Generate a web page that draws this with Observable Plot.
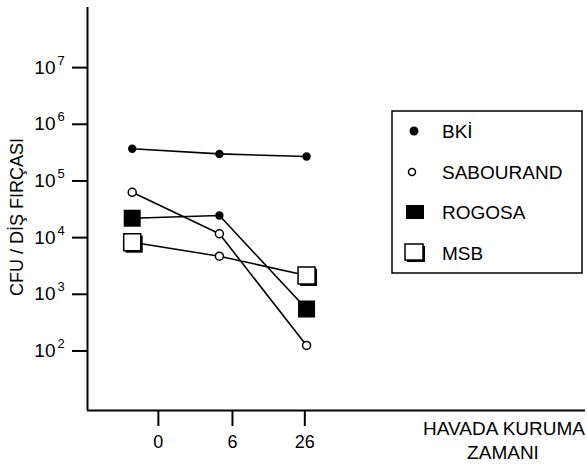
<!DOCTYPE html>
<html><head><meta charset="utf-8">
<script src="https://cdn.jsdelivr.net/npm/d3@7"></script>
<script src="https://cdn.jsdelivr.net/npm/@observablehq/plot@0.6"></script>
<style>
body{margin:0;background:#fff;}
#chart{position:relative;width:587px;height:464px;}
svg text{font-family:"Liberation Sans",Arial,Helvetica,sans-serif;}
</style>
</head><body><div id="chart"></div>
<script>
// ---- data ----
const seriesNames = ["BKİ", "SABOURAND", "ROGOSA", "MSB"];
const timeIndex = [0, 1, 2];
const bki = [3.7e5, 3.0e5, 2.7e5];
const sabourand = [6.3e4, 1.17e4, 125];
const rogosa = [2.2e4, 2.45e4, 550];
const msb = [8.3e3, 4.7e3, 2.15e3];
const xTickPos = [0.3, 1.15, 1.98];
const xTickLabels = ["0", "6", "26"];
const yExponents = [2, 3, 4, 5, 6, 7];
const yTitle = "CFU / DİŞ FIRÇASI";
const xTitle = ["HAVADA KURUMA", "ZAMANI"];

const valuesBySeries = {"BKİ": bki, "SABOURAND": sabourand, "ROGOSA": rogosa, "MSB": msb};
const shapes = {"BKİ": ["dot","dot","dot"], "SABOURAND": ["dot","dot","dot"], "ROGOSA": ["square","dot","square"], "MSB": ["square","dot","square"]};
const filled = {"BKİ": true, "SABOURAND": false, "ROGOSA": true, "MSB": false};

const rows = [];
for (const s of seriesNames) {
  timeIndex.forEach((t, i) => rows.push({series: s, t, v: valuesBySeries[s][i], shape: shapes[s][i], filled: filled[s]}));
}
const dotsFilled = rows.filter(d => d.shape === "dot" && d.filled);
const dotsOpen = rows.filter(d => d.shape === "dot" && !d.filled);
const sqFilled = rows.filter(d => d.shape === "square" && d.filled);
const sqOpen = rows.filter(d => d.shape === "square" && !d.filled);

const xDomain = [-0.513, 5.2];
const yDomain = [8.9, 1.15e8];
const font = "Liberation Sans, Arial, Helvetica, sans-serif";

const chart = Plot.plot({
  width: 587,
  height: 464,
  marginLeft: 87,
  marginRight: 2,
  marginTop: 7,
  marginBottom: 54,
  style: {fontFamily: font, background: "#fff", color: "#000"},
  x: {type: "linear", domain: xDomain},
  y: {type: "log", domain: yDomain},
  marks: [
    Plot.axisY({ticks: yExponents.map(e => 10 ** e), tickFormat: () => "10", tickSize: 15, tickPadding: 17, fontSize: 19, strokeWidth: 2, label: null}),
    Plot.text(yExponents, {x: xDomain[0], y: d => 10 ** d, text: d => String(d), dx: -30, dy: -7, textAnchor: "start", fontSize: 13}),
    Plot.axisX({ticks: xTickPos, tickFormat: d => xTickLabels[xTickPos.indexOf(d)], tickSize: 16, tickPadding: 9, fontSize: 18, strokeWidth: 2, label: null}),
    Plot.ruleX([xDomain[0]], {strokeWidth: 2}),
    Plot.ruleY([yDomain[0]], {strokeWidth: 2}),
    Plot.line(rows, {x: "t", y: "v", z: "series", stroke: "#000", strokeWidth: 1.6}),
    Plot.dot(sqOpen, {x: "t", y: "v", symbol: "square", r: 9.6, fill: "#000", dx: 2, dy: 2}),
    Plot.dot(sqOpen, {x: "t", y: "v", symbol: "square", r: 9.6, fill: "#fff", stroke: "#000", strokeWidth: 1.5}),
    Plot.dot(sqFilled, {x: "t", y: "v", symbol: "square", r: 9.6, fill: "#000"}),
    Plot.dot(dotsFilled, {x: "t", y: "v", r: 4.2, fill: "#000"}),
    Plot.dot(dotsOpen, {x: "t", y: "v", r: 4, fill: "#fff", stroke: "#000", strokeWidth: 1.5})
  ]
});
document.getElementById("chart").appendChild(chart);

// titles and legend
const svg = d3.select(chart);
svg.append("text").attr("transform", "translate(17,217) rotate(-90)")
  .attr("text-anchor", "middle").attr("dominant-baseline", "central")
  .attr("font-size", 18).text(yTitle);
svg.append("text").attr("x", 585).attr("y", 428).attr("text-anchor", "end")
  .attr("dominant-baseline", "central").attr("font-size", 19).text(xTitle[0]);
svg.append("text").attr("x", 503).attr("y", 452).attr("text-anchor", "middle")
  .attr("dominant-baseline", "central").attr("font-size", 19).text(xTitle[1]);

const lg = svg.append("g").attr("text-anchor", "start");
lg.append("rect").attr("x", 392).attr("y", 111).attr("width", 190).attr("height", 162)
  .attr("fill", "#fff").attr("stroke", "#000").attr("stroke-width", 1.5);
const rowY = [131, 172, 212, 253];
seriesNames.forEach((s, i) => {
  const y = rowY[i];
  if (i === 0) lg.append("circle").attr("cx", 414).attr("cy", y).attr("r", 4.5).attr("fill", "#000");
  if (i === 1) lg.append("circle").attr("cx", 412).attr("cy", y).attr("r", 3.5).attr("fill", "#fff").attr("stroke", "#000").attr("stroke-width", 1.5);
  if (i === 2) lg.append("rect").attr("x", 406).attr("y", y - 7).attr("width", 18).attr("height", 14).attr("fill", "#000");
  if (i === 3) {
    lg.append("rect").attr("x", 407).attr("y", y - 7).attr("width", 18).attr("height", 16).attr("fill", "#000");
    lg.append("rect").attr("x", 405).attr("y", y - 9).attr("width", 18).attr("height", 16).attr("fill", "#fff").attr("stroke", "#000").attr("stroke-width", 1.5);
  }
  lg.append("text").attr("x", 442).attr("y", y).attr("text-anchor", "start")
    .attr("dominant-baseline", "central").attr("font-size", 19).text(s);
});
</script>
</body></html>
